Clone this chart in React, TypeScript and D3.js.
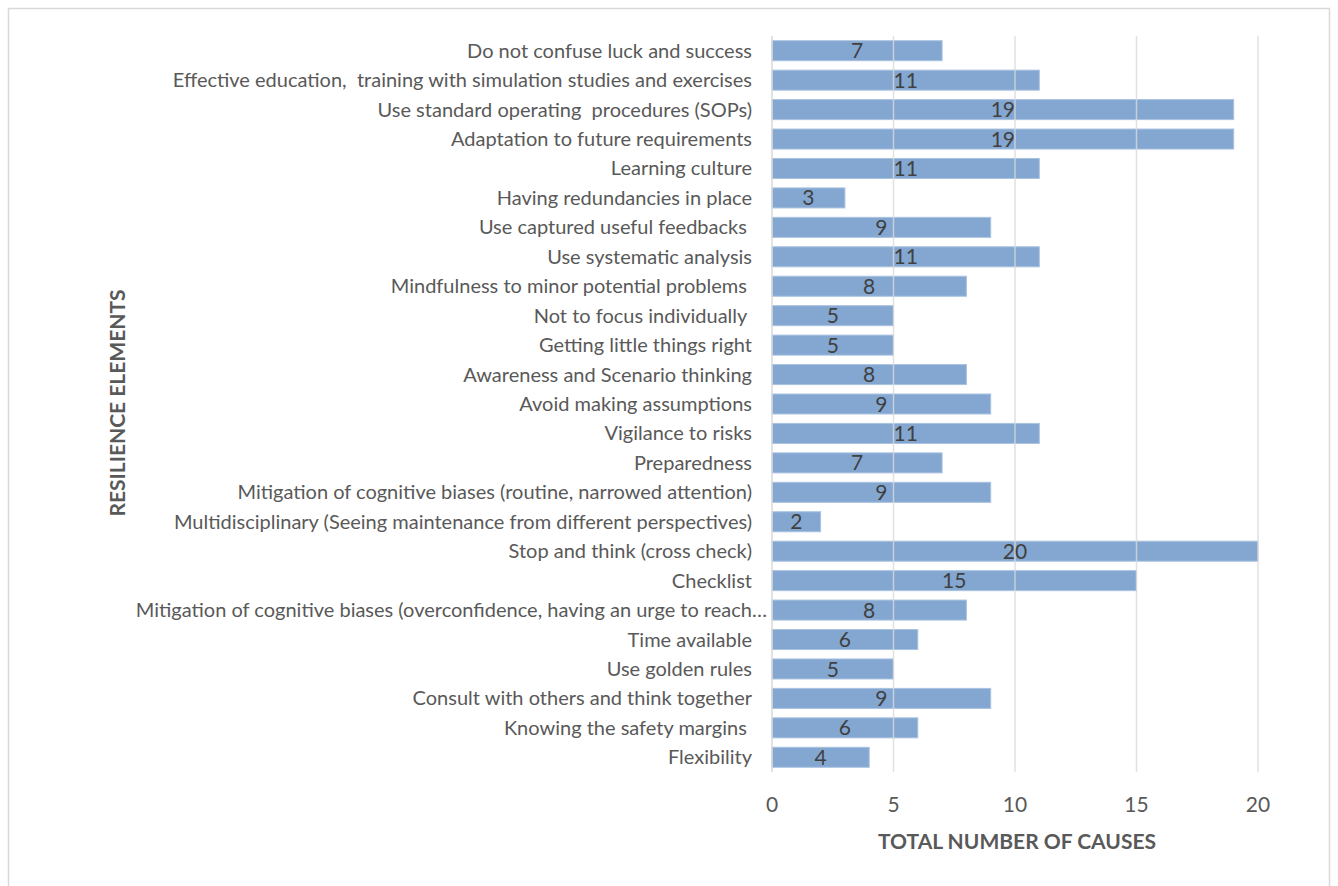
import React from "react";
import * as d3 from "d3";

const categories: string[] = [
  "Do not confuse luck and success",
  "Effective education,  training with simulation studies and exercises",
  "Use standard operating  procedures (SOPs)",
  "Adaptation to future requirements",
  "Learning culture",
  "Having redundancies in place",
  "Use captured useful feedbacks ",
  "Use systematic analysis",
  "Mindfulness to minor potential problems ",
  "Not to focus individually ",
  "Getting little things right",
  "Awareness and Scenario thinking",
  "Avoid making assumptions",
  "Vigilance to risks",
  "Preparedness",
  "Mitigation of cognitive biases (routine, narrowed attention)",
  "Multidisciplinary (Seeing maintenance from different perspectives)",
  "Stop and think (cross check)",
  "Checklist",
  "Mitigation of cognitive biases (overconfidence, having an urge to reach…",
  "Time available",
  "Use golden rules",
  "Consult with others and think together",
  "Knowing the safety margins ",
  "Flexibility",
];

const values: number[] = [7, 11, 19, 19, 11, 3, 9, 11, 8, 5, 5, 8, 9, 11, 7, 9, 2, 20, 15, 8, 6, 5, 9, 6, 4];

const xTicks: number[] = [0, 5, 10, 15, 20];

const xTitle = "TOTAL NUMBER OF CAUSES";
const yTitle = "RESILIENCE ELEMENTS";

export default function App() {
  const W = 1338;
  const H = 886;
  const plot = { left: 772, right: 1258, top: 36, bottom: 772 };
  const x = d3.scaleLinear().domain([0, 20]).range([plot.left, plot.right]);
  const y = d3
    .scaleBand<string>()
    .domain(categories)
    .range([plot.top, plot.bottom])
    .paddingInner(0.32)
    .paddingOuter(0.16);
  const font = "Lato, 'Open Sans', sans-serif";
  const gray = "#595959";

  return (
    <svg
      width={W}
      height={H}
      style={{ position: "absolute", left: 0, top: 0, display: "block" }}
    >
      <rect x={0} y={0} width={W} height={H} fill="#fff" />
      <rect x={8.5} y={8.5} width={1321} height={H} fill="none" stroke="#d9d9d9" strokeWidth={1.5} />
      {categories.map((c, i) => (
        <rect
          key={"b" + i}
          x={x(0)}
          y={y(c)!}
          width={x(values[i]) - x(0)}
          height={y.bandwidth()}
          fill="#4F81BD"
          fillOpacity={0.7}
          stroke="#a9c2e0"
          strokeWidth={1}
        />
      ))}
      {xTicks.map((t) => (
        <line
          key={"g" + t}
          x1={x(t)}
          x2={x(t)}
          y1={plot.top}
          y2={plot.bottom}
          stroke="#d9d9d9"
          strokeWidth={1.5}
          strokeOpacity={t === 0 ? 1 : 0.8}
        />
      ))}
      {categories.map((c, i) => (
        <text
          key={"v" + i}
          x={(x(0) + x(values[i])) / 2}
          y={y(c)! + y.bandwidth() / 2}
          dy="0.36em"
          textAnchor="middle"
          fontFamily={font}
          fontSize={21}
          fill="#404040"
        >
          {values[i]}
        </text>
      ))}
      {categories.map((c, i) => (
        <text
          key={"c" + i}
          x={c.endsWith("…") ? 767 : 752}
          y={y(c)! + y.bandwidth() / 2}
          dy="0.35em"
          textAnchor="end"
          fontFamily={font}
          fontSize={20}
          fill={gray}
          style={{ whiteSpace: "pre" }}
        >
          {c}
        </text>
      ))}
      {xTicks.map((t) => (
        <text
          key={"t" + t}
          x={x(t)}
          y={804}
          dy="0.36em"
          textAnchor="middle"
          fontFamily={font}
          fontSize={21}
          fill={gray}
        >
          {t}
        </text>
      ))}
      <text
        x={1017}
        y={841}
        dy="0.36em"
        textAnchor="middle"
        fontFamily={font}
        fontSize={21}
        fontWeight="bold"
        fill={gray}
      >
        {xTitle}
      </text>
      <text
        transform={`translate(117,403) rotate(-90)`}
        dy="0.36em"
        textAnchor="middle"
        fontFamily={font}
        fontSize={21}
        fontWeight="bold"
        fill={gray}
      >
        {yTitle}
      </text>
    </svg>
  );
}
